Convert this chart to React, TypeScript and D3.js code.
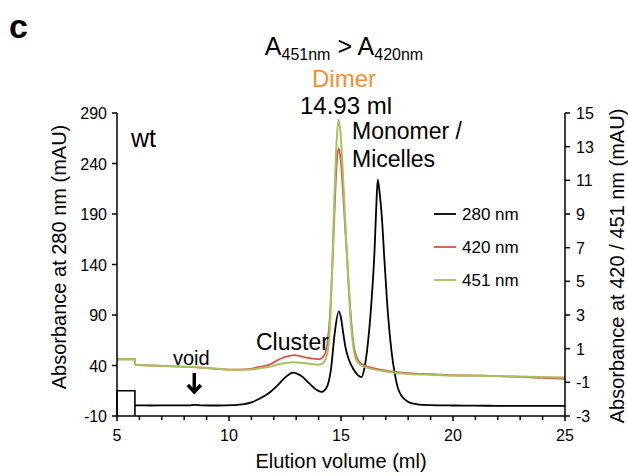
import React from "react";
import * as d3 from "d3";

// x: elution volume (ml); y: absorbance (mAU)
const xTicks = [5, 10, 15, 20, 25];
const xMinor = [6, 7, 8, 9, 11, 12, 13, 14, 16, 17, 18, 19, 21, 22, 23, 24];
const yLeftTicks = [-10, 40, 90, 140, 190, 240, 290];
const yRightTicks = [-3, -1, 1, 3, 5, 7, 9, 11, 13, 15];

// 280 nm (left axis): injection step, then trace
const step280: [number, number][] = [[5, -10], [5, 15], [5.8, 15], [5.8, -10]];
const trace280: [number, number][] = [
  [5.8, 0.5], [6.5, 0.4], [7.5, 0.5], [8.2, 0.6], [8.45, 1.1], [8.8, 0.6], [9.5, 0.4],
  [10.2, 0.8], [10.6, 1.5], [11.0, 3.5], [11.4, 7.5], [11.8, 13], [12.2, 21], [12.5, 28],
  [12.86, 33], [13.2, 30], [13.6, 22], [13.9, 16], [14.12, 13.8], [14.35, 18], [14.55, 36],
  [14.72, 72], [14.9, 93.5], [15.0, 87], [15.1, 72], [15.2, 58], [15.35, 46], [15.55, 36.5],
  [15.75, 30.5], [15.92, 28.5], [16.05, 38], [16.2, 62], [16.35, 100], [16.5, 155], [16.58, 200],
  [16.64, 224], [16.72, 212], [16.82, 188], [16.94, 144], [17.1, 90], [17.25, 55], [17.4, 32],
  [17.55, 17], [17.7, 10], [17.9, 5.5], [18.1, 3], [18.4, 1.6], [19, 0.8], [20, 0.4], [21, 0.2],
  [22, 0.1], [23, 0], [24, 0], [25, 0],
];

// 420 nm and 451 nm (right axis)
const step420: [number, number][] = [[5, 0.37], [5.8, 0.37], [5.8, 0.03]];
const trace420: [number, number][] = [
  [5.8, 0.03], [6.5, 0.0], [7.5, -0.05], [8.5, -0.1], [9.5, -0.2], [10.2, -0.25], [10.8, -0.22],
  [11.3, -0.1], [11.8, 0.05], [12.3, 0.4], [12.93, 0.62], [13.5, 0.45], [14.04, 0.37],
  [14.25, 0.6], [14.41, 1.5], [14.5, 2.8], [14.61, 5.8], [14.7, 8.8], [14.8, 11.8], [14.89, 12.9],
  [14.98, 12.3], [15.08, 10.5], [15.18, 8.3], [15.28, 6.2], [15.4, 3.6], [15.53, 1.6],
  [15.68, 0.55], [15.9, 0.1], [16.28, -0.1], [17, -0.3], [18, -0.45], [19, -0.52], [20, -0.58],
  [21, -0.6], [22, -0.63], [23, -0.68], [24, -0.74], [25, -0.8],
];
const step451: [number, number][] = [[5, 0.37], [5.8, 0.37], [5.8, 0.03]];
const trace451: [number, number][] = [
  [5.8, 0.03], [6.5, 0.0], [7.5, -0.05], [8.5, -0.1], [9.5, -0.2], [10.2, -0.25], [10.8, -0.25],
  [11.3, -0.18], [11.8, -0.08], [12.3, 0.1], [12.9, 0.2], [13.5, 0.12], [14.0, 0.05],
  [14.2, 0.15], [14.4, 0.8], [14.5, 2.2], [14.61, 6], [14.7, 9.7], [14.8, 13.2], [14.89, 14.6],
  [14.98, 13.8], [15.08, 11.5], [15.18, 8.8], [15.28, 6.2], [15.4, 3.3], [15.53, 1.3],
  [15.68, 0.33], [15.9, 0.0], [16.28, -0.17], [17, -0.35], [18.05, -0.5], [19, -0.55],
  [20, -0.6], [21, -0.6], [22, -0.63], [23, -0.66], [24, -0.68], [25, -0.72],
];

const legendItems = [
  { label: "280 nm", color: "#000000" },
  { label: "420 nm", color: "#d9534f" },
  { label: "451 nm", color: "#a3c45c" },
];

const voidVolume = 8.45;

const FONT = "'Liberation Sans', Arial, Helvetica, sans-serif";

export default function App() {
  const x = d3.scaleLinear().domain([5, 25]).range([117, 565]);
  const yL = d3.scaleLinear().domain([-10, 290]).range([416, 113]);
  const yR = d3.scaleLinear().domain([-3, 15]).range([416, 113]);

  const linL = d3.line<[number, number]>().x((d) => x(d[0])).y((d) => yL(d[1]));
  const smoothL = d3.line<[number, number]>().x((d) => x(d[0])).y((d) => yL(d[1])).curve(d3.curveMonotoneX);
  const linR = d3.line<[number, number]>().x((d) => x(d[0])).y((d) => yR(d[1]));
  const smoothR = d3.line<[number, number]>().x((d) => x(d[0])).y((d) => yR(d[1])).curve(d3.curveMonotoneX);

  const x0 = x(5), x1 = x(25), yb = yL(-10), yt = yL(290);
  const ax = x(voidVolume);

  return (
    <svg width={628} height={476} style={{ position: "absolute", left: 0, top: 0, background: "#fff" }} fontFamily={FONT}>
      {/* panel letter */}
      <text x={9} y={38} fontSize={34} fontWeight="bold">c</text>

      {/* header annotations */}
      <text x={344} y={55} fontSize={25} textAnchor="middle">
        A<tspan fontSize={16} dy={5}>451nm</tspan>
        <tspan dy={-5}> &gt; A</tspan>
        <tspan fontSize={16} dy={5}>420nm</tspan>
      </text>
      <text x={344} y={87} fontSize={24} textAnchor="middle" fill="#f7902f">Dimer</text>
      <text x={346} y={114} fontSize={24} textAnchor="middle">14.93 ml</text>

      {/* traces */}
      <path d={linL(step280) || ""} fill="none" stroke="#000" strokeWidth={1.6} />
      <path d={smoothL(trace280) || ""} fill="none" stroke="#000" strokeWidth={1.8} />
      <path d={linR(step420) || ""} fill="none" stroke={legendItems[1].color} strokeWidth={1.8} />
      <path d={smoothR(trace420) || ""} fill="none" stroke={legendItems[1].color} strokeWidth={1.8} />
      <path d={linR(step451) || ""} fill="none" stroke={legendItems[2].color} strokeWidth={2} />
      <path d={smoothR(trace451) || ""} fill="none" stroke={legendItems[2].color} strokeWidth={2} />

      {/* axes */}
      <g stroke="#000" strokeWidth={1.5} fill="none">
        <line x1={x0} x2={x0} y1={yt} y2={yb} />
        <line x1={x1} x2={x1} y1={yt} y2={yb} />
        <line x1={x0} x2={x1} y1={yb} y2={yb} />
        {xTicks.map((t) => (
          <line key={"xt" + t} x1={x(t)} x2={x(t)} y1={yb} y2={yb + 5} />
        ))}
        {xMinor.map((t) => (
          <line key={"xm" + t} x1={x(t)} x2={x(t)} y1={yb} y2={yb + 4} />
        ))}
        {yLeftTicks.map((t) => (
          <line key={"yl" + t} x1={x0 - 5} x2={x0} y1={yL(t)} y2={yL(t)} />
        ))}
        {yRightTicks.map((t) => (
          <line key={"yr" + t} x1={x1} x2={x1 + 5} y1={yR(t)} y2={yR(t)} />
        ))}
      </g>
      <g fontSize={16}>
        {xTicks.map((t) => (
          <text key={"xl" + t} x={x(t)} y={441} textAnchor="middle">{t}</text>
        ))}
        {yLeftTicks.map((t) => (
          <text key={"yll" + t} x={107} y={yL(t) + 6} textAnchor="end">{t}</text>
        ))}
        {yRightTicks.map((t) => (
          <text key={"yrl" + t} x={576} y={yR(t) + 6} textAnchor="start">{t}</text>
        ))}
      </g>

      {/* axis titles */}
      <text x={341} y={468} fontSize={20} textAnchor="middle">Elution volume (ml)</text>
      <text transform="translate(66,257) rotate(-90)" fontSize={20} textAnchor="middle">Absorbance at 280 nm (mAU)</text>
      <text transform="translate(624,266) rotate(-90)" fontSize={20} textAnchor="middle">Absorbance at 420 / 451 nm (mAU)</text>

      {/* annotations */}
      <text x={131} y={147} fontSize={25}>wt</text>
      <text x={352} y={139} fontSize={23}>Monomer /</text>
      <text x={352} y={167} fontSize={23}>Micelles</text>
      <text x={256} y={350} fontSize={23}>Cluster</text>
      <text x={173} y={365} fontSize={20}>void</text>
      <g stroke="#000" strokeWidth={3.5} fill="none" strokeLinecap="butt">
        <line x1={ax} x2={ax} y1={373} y2={392} />
        <polyline points={`${ax - 6.5},${385} ${ax},${392} ${ax + 6.5},${385}`} strokeLinejoin="miter" />
      </g>

      {/* legend */}
      {legendItems.map((it, i) => (
        <g key={it.label}>
          <line x1={434} x2={456} y1={214 + i * 33} y2={214 + i * 33} stroke={it.color} strokeWidth={1.8} />
          <text x={462} y={214 + i * 33 + 6} fontSize={17}>{it.label}</text>
        </g>
      ))}
    </svg>
  );
}
